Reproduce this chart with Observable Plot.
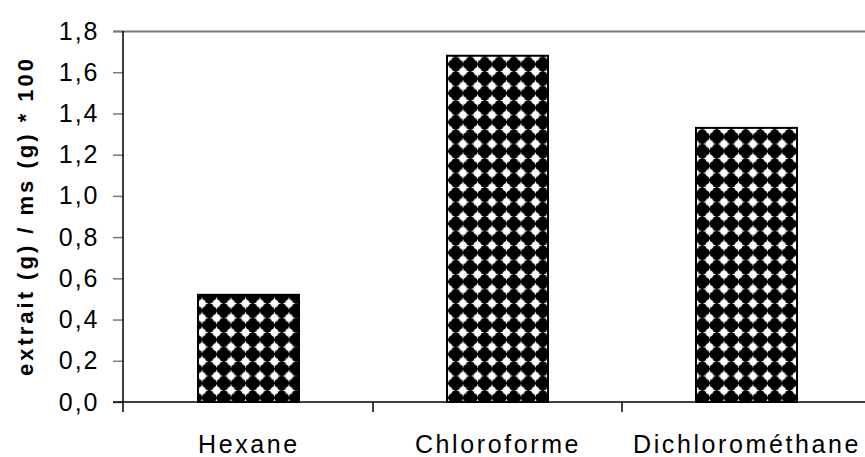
<!DOCTYPE html>
<html>
<head>
<meta charset="utf-8">
<script src="https://cdn.jsdelivr.net/npm/d3@7"></script>
<script src="https://cdn.jsdelivr.net/npm/@observablehq/plot@0.6"></script>
<style>
  html, body { margin: 0; padding: 0; background: #fff; overflow: hidden; }
</style>
</head>
<body>
<div id="chart"></div>
<script>
const categories = ["Hexane", "Chloroforme", "Dichlorométhane"];
const values = [0.52, 1.68, 1.33];
const yTicks = [0, 0.2, 0.4, 0.6, 0.8, 1.0, 1.2, 1.4, 1.6, 1.8];
const yLabel = "extrait (g) / ms (g) * 100";

const data = categories.map((c, i) => ({ cat: c, val: values[i] }));
const fmt = d => d.toFixed(1).replace(".", ",");

// axis lines and category boundary ticks, drawn from the scales
function axisLines(index, scales, values, dims) {
  const g = d3.create("svg:g");
  const left = dims.marginLeft;
  const right = dims.width - dims.marginRight;
  const top = dims.marginTop;
  const bottom = dims.height - dims.marginBottom;
  const y0 = scales.y(0);
  const step = (right - left) / categories.length;
  g.append("line").attr("x1", left - 10).attr("x2", right).attr("y1", y0).attr("y2", y0)
    .attr("stroke", "#000").attr("stroke-width", 1.5);
  g.append("line").attr("x1", left).attr("x2", left).attr("y1", top).attr("y2", bottom + 10)
    .attr("stroke", "#000").attr("stroke-width", 1.5);
  const edges = categories.map(c => scales.x(c));
  edges.push(scales.x(categories[categories.length - 1]) + step);
  for (const e of edges.slice(1)) {
    g.append("line").attr("x1", e).attr("x2", e).attr("y1", y0).attr("y2", y0 + 10)
      .attr("stroke", "#000").attr("stroke-width", 1.5);
  }
  return g.node();
}

const svg = Plot.plot({
  width: 865,
  height: 457,
  marginTop: 31,
  marginBottom: 55,
  marginLeft: 123,
  marginRight: -7,
  style: { fontFamily: "'Liberation Sans', Arial, sans-serif", color: "#000", background: "#fff" },
  x: { domain: categories, padding: 0, label: null },
  y: { domain: [0, 1.8], label: null },
  marks: [
    Plot.ruleY([1.8], { stroke: "#7a7a7a", strokeWidth: 2, insetLeft: -10 }),
    Plot.barY(data, {
      x: "cat", y: "val",
      fill: "url(#dotpat)", stroke: "#000", strokeWidth: 2,
      insetLeft: 74, insetRight: 74
    }),
    Plot.axisY({
      ticks: yTicks, tickFormat: fmt, tickSize: 10, tickPadding: 14,
      stroke: "#7a7a7a", strokeWidth: 1.5,
      fontSize: 25, fill: "#000", label: null
    }),
    Plot.axisX({
      tickSize: 0, tickPadding: 33, fontSize: 25, fill: "#000", label: null
    }),
    axisLines,
    Plot.text([yLabel], {
      frameAnchor: "left", rotate: -90, dx: -98, dy: -1,
      textAnchor: "middle", lineAnchor: "middle",
      fontSize: 22, fontWeight: "bold", fill: "#000"
    })
  ]
});

const root = d3.select(svg);
root.selectAll('[aria-label="x-axis tick label"]').style("letter-spacing", "2.6px");
root.selectAll('[aria-label="y-axis tick label"]').style("letter-spacing", "2px");
root.selectAll('[aria-label="text"]').style("letter-spacing", "3px");

// pattern: white sparkle diamonds on black
const defs = root.insert("defs", ":first-child");
const s = 14.5, h = s / 2;
const pat = defs.append("pattern")
  .attr("id", "dotpat")
  .attr("patternUnits", "userSpaceOnUse")
  .attr("x", 6.25).attr("y", 6.25)
  .attr("width", s).attr("height", s);
pat.append("rect").attr("width", s).attr("height", s).attr("fill", "#000");
pat.append("path")
  .attr("transform", `translate(${h},${h})`)
  .attr("d", "M6.6,0 Q1,1 0,6.6 Q-1,1 -6.6,0 Q-1,-1 0,-6.6 Q1,-1 6.6,0 Z")
  .attr("fill", "#fff");
pat.append("circle").attr("cx", h).attr("cy", h).attr("r", 3.8).attr("fill", "#fff");

document.getElementById("chart").appendChild(svg);
</script>
</body>
</html>
